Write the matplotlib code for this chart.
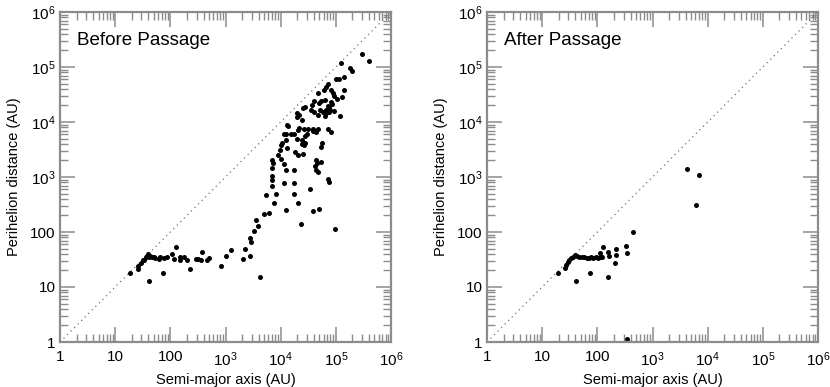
import numpy as np
import matplotlib
matplotlib.use('Agg')
import matplotlib.pyplot as plt
from matplotlib.ticker import FixedLocator, FixedFormatter, LogLocator, NullFormatter

plt.rcParams['font.family'] = ['Liberation Sans', 'DejaVu Sans']
plt.rcParams['mathtext.default'] = 'regular'

before_log_a = [
    1.27, 1.41, 1.41, 1.47, 1.50, 1.53, 1.55, 1.57, 1.59, 1.60, 1.62, 1.64, 1.67, 1.70,
    1.73, 1.79, 1.82, 1.88, 1.94, 2.03, 2.06, 2.18, 2.18, 2.24, 2.30, 2.47, 2.11,
    1.61, 1.87, 2.35, 2.50, 2.55, 2.58, 2.67, 2.70, 2.92, 3.00, 3.10, 3.31, 3.35,
    3.45, 3.44, 3.47, 3.51, 3.59, 3.55, 3.62, 3.70, 3.79, 3.73, 3.88, 3.91,
    3.85, 3.85, 3.85, 3.85, 3.86, 3.85, 3.96, 3.98, 4.00, 4.00, 4.02, 4.09, 4.06,
    4.06, 4.09, 4.10, 4.06, 4.10, 4.18, 4.24, 4.12, 4.14, 4.12, 4.24, 4.24, 4.24,
    4.26, 4.29, 4.30, 4.33, 4.30, 4.31, 4.33, 4.32, 4.32, 4.38, 4.39, 4.38, 4.42,
    4.45, 4.41, 4.45, 4.45, 4.48, 4.50, 4.53, 4.56, 4.58, 4.58, 4.62, 4.64, 4.64,
    4.65, 4.67, 4.64, 4.67, 4.67, 4.69, 4.70, 4.71, 4.73, 4.75, 4.73, 4.85, 4.88,
    4.85, 4.91, 4.82, 4.88, 4.91, 4.36, 4.98,
    5.10, 5.26, 5.29, 5.00, 5.05, 5.14, 4.85, 4.82, 4.79, 4.92, 4.95, 4.96, 5.15,
    5.12, 4.68, 4.61, 4.73, 4.80, 4.85, 4.90, 4.93, 4.96, 4.88, 4.83, 5.03, 4.41,
    4.55, 4.61, 4.76, 4.80, 5.08, 4.42, 4.58, 5.47, 5.61,
]
before_log_q = [
    1.25, 1.38, 1.32, 1.44, 1.49, 1.50, 1.54, 1.56, 1.58, 1.60, 1.55, 1.57, 1.54, 1.55,
    1.52, 1.51, 1.54, 1.53, 1.54, 1.60, 1.51, 1.55, 1.49, 1.54, 1.49, 1.51, 1.73,
    1.11, 1.25, 1.33, 1.51, 1.49, 1.63, 1.49, 1.52, 1.39, 1.56, 1.67, 1.51, 1.70,
    1.57, 1.89, 1.82, 2.02, 2.11, 2.21, 1.19, 2.33, 2.34, 2.67, 2.53, 2.70,
    3.01, 2.84, 2.95, 3.16, 3.25, 3.31, 3.40, 3.49, 3.32, 3.58, 3.62, 3.68, 3.24,
    2.89, 3.13, 2.40, 3.79, 3.79, 3.79, 3.79, 3.52, 3.92, 3.95, 3.12, 2.90, 2.69,
    3.46, 4.10, 4.16, 4.13, 3.70, 3.85, 3.90, 3.40, 2.53, 4.04, 3.67, 3.60, 3.58,
    3.61, 3.42, 4.28, 3.75, 3.79, 3.87, 2.78, 4.31, 3.84, 2.39, 3.20, 3.13, 3.31,
    3.25, 3.10, 3.82, 4.13, 3.87, 2.41, 4.35, 4.22, 3.55, 3.61, 3.28, 2.96, 2.91,
    3.88, 3.82, 4.16, 4.28, 4.37, 2.14, 2.06,
    5.08, 4.99, 4.93, 4.78, 4.79, 4.81, 4.69, 4.64, 4.59, 4.59, 4.52, 4.47, 4.58,
    4.45, 4.52, 4.39, 4.39, 4.40, 4.30, 4.22, 4.33, 4.20, 4.18, 4.22, 4.41, 4.25,
    4.22, 4.19, 4.19, 4.11, 4.11, 3.87, 3.87, 5.24, 5.11,
]

after_log_a = [
    1.28, 1.41, 1.43, 1.46, 1.49, 1.52, 1.56, 1.60, 1.64, 1.67, 1.72, 1.76, 1.81,
    1.84, 1.88, 1.93, 1.98, 2.02, 2.05, 2.08, 2.11, 2.05, 2.20, 2.22, 2.34, 2.34,
    2.32, 2.52, 2.53, 2.64, 1.61, 1.87, 2.19, 2.53, 3.63, 3.85, 3.79,
]
after_log_q = [
    1.25, 1.34, 1.40, 1.46, 1.49, 1.52, 1.55, 1.58, 1.56, 1.55, 1.55, 1.54, 1.52,
    1.53, 1.55, 1.52, 1.54, 1.53, 1.55, 1.54, 1.72, 1.62, 1.64, 1.56, 1.69, 1.58,
    1.43, 1.75, 1.61, 2.00, 1.11, 1.25, 1.18, 0.05, 3.15, 3.04, 2.49,
]

panels = [
    ('Before Passage', before_log_a, before_log_q),
    ('After Passage', after_log_a, after_log_q),
]

tick_vals = [1, 10, 100, 1e3, 1e4, 1e5, 1e6]
tick_labels = ['1', '10', '100', '10$^{3}$', '10$^{4}$', '10$^{5}$', '10$^{6}$']
grey = '#8c8c8c'

fig = plt.figure(figsize=(8.3, 3.87), dpi=100)
lefts = [60 / 830, 487 / 830]

for left, (title, la, lq) in zip(lefts, panels):
    ax = fig.add_axes([left, 45 / 387, 331 / 830, 330 / 387])
    a = np.power(10.0, la)
    q = np.power(10.0, lq)

    ax.plot([1, 1e6], [1, 1e6], linestyle=(0, (1, 3)), color='#707070', lw=0.9)
    ax.plot(a, q, 'o', color='black', markersize=3.6, markeredgewidth=0)

    ax.set_xscale('log')
    ax.set_yscale('log')
    ax.set_xlim(1, 1e6)
    ax.set_ylim(1, 1e6)

    for axis in (ax.xaxis, ax.yaxis):
        axis.set_major_locator(FixedLocator(tick_vals))
        axis.set_major_formatter(FixedFormatter(tick_labels))
        axis.set_minor_locator(LogLocator(base=10, subs=np.arange(2, 10), numticks=20))
        axis.set_minor_formatter(NullFormatter())

    ax.tick_params(which='both', direction='in', top=True, right=True,
                   color=grey, labelsize=11, labelcolor='black')
    ax.tick_params(which='major', length=11, width=1.1)
    ax.tick_params(which='minor', length=5.5, width=1.0)
    ax.tick_params(axis='x', which='major', pad=6)
    ax.tick_params(axis='y', which='major', pad=3)
    for sp in ax.spines.values():
        sp.set_color(grey)
        sp.set_linewidth(1.6)

    ax.set_xlabel('Semi-major axis (AU)', fontsize=10.5, labelpad=3)
    ax.set_ylabel('Perihelion distance (AU)', fontsize=10.5, labelpad=7)
    ax.text(0.05, 0.94, title, transform=ax.transAxes, fontsize=13.5,
            ha='left', va='top')

fig.savefig('out.png', dpi=100)
